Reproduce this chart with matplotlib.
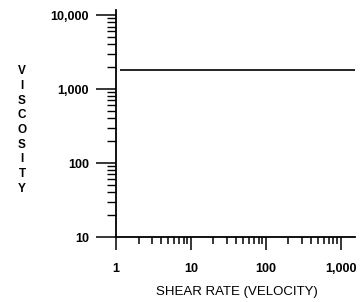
import matplotlib
matplotlib.use("Agg")
import matplotlib.pyplot as plt
from matplotlib.ticker import LogLocator, NullFormatter, FixedLocator, FixedFormatter

# Data
shear_rate = [1.13, 1550]
viscosity = [1800, 1800]

x_ticks = [1, 10, 100, 1000]
x_tick_labels = ["1", "10", "100", "1,000"]
y_ticks = [10, 100, 1000, 10000]
y_tick_labels = ["10", "100", "1,000", "10,000"]
x_label = "SHEAR RATE (VELOCITY)"
y_label = "VISCOSITY"

plt.rcParams['font.family'] = ['Liberation Sans', 'DejaVu Sans']

fig = plt.figure(figsize=(3.61, 3.02), dpi=100)
ax = fig.add_axes([116/361, 65/302, 239/361, 227/302])

ax.plot(shear_rate, viscosity, color='black', lw=1.2, solid_capstyle='butt')

ax.set_xscale('log')
ax.set_yscale('log')
ax.set_xlim(1, 1550)
ax.set_ylim(10, 11700)

for s in ['top', 'right']:
    ax.spines[s].set_visible(False)
for s in ['left', 'bottom']:
    ax.spines[s].set_linewidth(1.3)
    ax.spines[s].set_color('black')

ax.xaxis.set_major_locator(FixedLocator(x_ticks))
ax.xaxis.set_major_formatter(FixedFormatter(x_tick_labels))
ax.yaxis.set_major_locator(FixedLocator(y_ticks))
ax.yaxis.set_major_formatter(FixedFormatter(y_tick_labels))
ax.xaxis.set_minor_locator(LogLocator(base=10, subs=range(2, 10)))
ax.yaxis.set_minor_locator(LogLocator(base=10, subs=range(2, 10)))
ax.xaxis.set_minor_formatter(NullFormatter())
ax.yaxis.set_minor_formatter(NullFormatter())

ax.tick_params(axis='x', which='major', direction='out', length=9.5, width=1.1, pad=9, labelsize=9)
ax.tick_params(axis='x', which='minor', direction='out', length=5, width=1.1)
ax.tick_params(axis='y', which='major', direction='out', length=14.5, width=1.1, pad=5, labelsize=9)
ax.tick_params(axis='y', which='minor', direction='out', length=6.5, width=1.0)
for lab in ax.get_xticklabels() + ax.get_yticklabels():
    lab.set_fontweight('bold')

fig.text(237/361, 1 - 292/302, x_label, ha='center', va='center', fontsize=9.5)
fig.text(22/361, 1 - 130/302, "\n".join(y_label), ha='center', va='center',
         fontsize=8.5, fontweight='bold', linespacing=1.3)

fig.savefig("out.png", dpi=100)
